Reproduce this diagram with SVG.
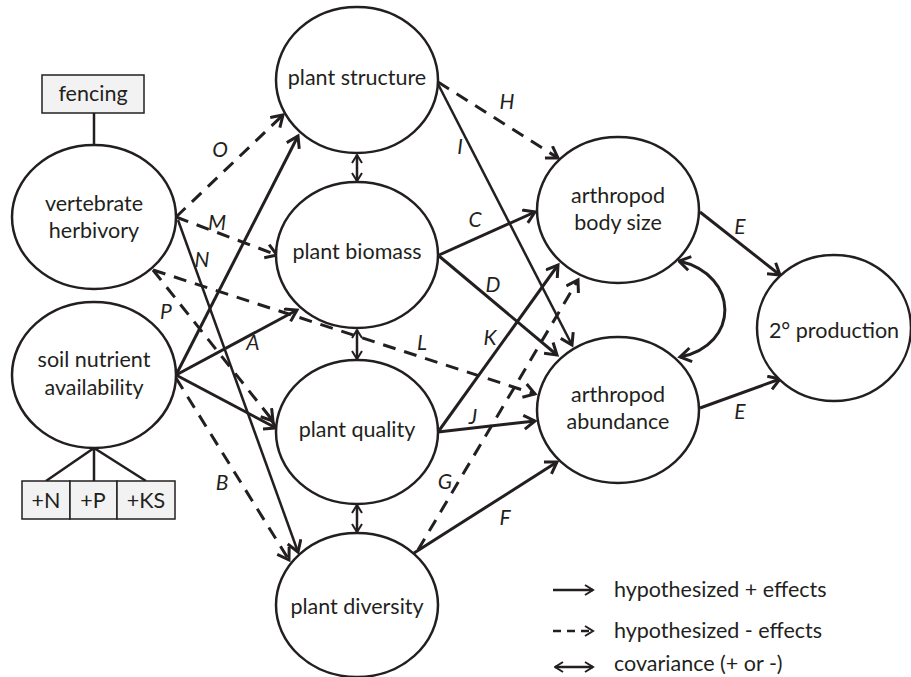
<svg xmlns="http://www.w3.org/2000/svg" width="911" height="677" viewBox="0 0 911 677">
<defs>
<marker id="ah" markerUnits="userSpaceOnUse" markerWidth="20" markerHeight="20" refX="13" refY="8" orient="auto">
<path d="M2,1 L13,8 L2,15" fill="none" stroke="#231f20" stroke-width="3" stroke-dasharray="none"/>
</marker>
<marker id="ahs" markerUnits="userSpaceOnUse" markerWidth="16" markerHeight="16" refX="9" refY="6" orient="auto">
<path d="M1,1 L9,6 L1,11" fill="none" stroke="#231f20" stroke-width="2" stroke-dasharray="none"/>
</marker>
<marker id="ahsr" markerUnits="userSpaceOnUse" markerWidth="16" markerHeight="16" refX="1" refY="6" orient="auto">
<path d="M9,1 L1,6 L9,11" fill="none" stroke="#231f20" stroke-width="2" stroke-dasharray="none"/>
</marker>
<marker id="ahr" markerUnits="userSpaceOnUse" markerWidth="20" markerHeight="20" refX="1" refY="8" orient="auto">
<path d="M12,1 L1,8 L12,15" fill="none" stroke="#231f20" stroke-width="3" stroke-dasharray="none"/>
</marker>
</defs>
<style>
.n ellipse{fill:#fff;stroke:#231f20;stroke-width:2.5}
.n rect{fill:#f2f2f2;stroke:#231f20;stroke-width:1.5}
text{font-family:Lato,"Open Sans","Liberation Sans",sans-serif;font-size:21.5px;fill:#231f20}
.t{text-anchor:middle}
.lb{font-style:italic;text-anchor:middle;font-size:21px}
.e{fill:none;stroke:#231f20;stroke-width:3}
.thin{stroke-width:2.5}
.d{stroke-dasharray:13 9}
.tie{stroke:#231f20;stroke-width:2.5;fill:none}
</style>
<rect width="911" height="677" fill="#fff"/>
<g id="connectors">
<line class="tie" x1="94" y1="113" x2="94" y2="145"/>
<path class="tie" d="M46,481 L94,448 L146,481 M94,448 L94,481"/>
<line class="e d" x1="176" y1="217" x2="283" y2="115" marker-end="url(#ah)"/>
<line class="e d" x1="176" y1="217" x2="277" y2="255" marker-end="url(#ah)"/>
<line class="e thin" x1="178" y1="220" x2="298" y2="552" marker-end="url(#ah)"/>
<line class="e d" x1="153" y1="270" x2="273" y2="421" marker-end="url(#ah)"/>
<line class="e d" x1="153" y1="270" x2="535" y2="394" marker-end="url(#ah)"/>
<line class="e" x1="176" y1="375" x2="298" y2="136" marker-end="url(#ah)"/>
<line class="e" x1="176" y1="375" x2="297" y2="310" marker-end="url(#ah)"/>
<line class="e" x1="176" y1="375" x2="276" y2="428" marker-end="url(#ah)"/>
<line class="e d" x1="176" y1="378" x2="289" y2="560" marker-end="url(#ah)"/>
<line class="e d" x1="438" y1="82" x2="558" y2="158" marker-end="url(#ah)"/>
<line class="e thin" x1="438" y1="84" x2="572" y2="345" marker-end="url(#ah)"/>
<line class="e" x1="439" y1="255" x2="535" y2="212" marker-end="url(#ah)"/>
<line class="e" x1="439" y1="256" x2="557" y2="355" marker-end="url(#ah)"/>
<line class="e" x1="438" y1="432" x2="558" y2="265" marker-end="url(#ah)"/>
<line class="e" x1="438" y1="432" x2="535" y2="421" marker-end="url(#ah)"/>
<line class="e d" x1="418" y1="550" x2="578" y2="280" marker-end="url(#ah)"/>
<line class="e" x1="414" y1="553" x2="557" y2="462" marker-end="url(#ah)"/>
<line class="e" x1="700" y1="212" x2="780" y2="275" marker-end="url(#ah)"/>
<line class="e" x1="700" y1="408" x2="780" y2="379" marker-end="url(#ah)"/>
<path class="e" d="M679,261 C740,275 740,345 680,357" marker-start="url(#ahr)" marker-end="url(#ah)"/>
<line class="e thin" x1="357" y1="155" x2="357" y2="181" marker-start="url(#ahsr)" marker-end="url(#ahs)"/>
<line class="e thin" x1="357" y1="330" x2="357" y2="359" marker-start="url(#ahsr)" marker-end="url(#ahs)"/>
<line class="e thin" x1="357" y1="505" x2="357" y2="532" marker-start="url(#ahsr)" marker-end="url(#ahs)"/>
</g>
<g id="edge-labels">
<text class="lb" x="220" y="157">O</text>
<text class="lb" x="217" y="230">M</text>
<text class="lb" x="202" y="267">N</text>
<text class="lb" x="166" y="319">P</text>
<text class="lb" x="253" y="350">A</text>
<text class="lb" x="222" y="490">B</text>
<text class="lb" x="507" y="109">H</text>
<text class="lb" x="460" y="154">I</text>
<text class="lb" x="475" y="227">C</text>
<text class="lb" x="493" y="292">D</text>
<text class="lb" x="490" y="345">K</text>
<text class="lb" x="422" y="350">L</text>
<text class="lb" x="473" y="424">J</text>
<text class="lb" x="445" y="489">G</text>
<text class="lb" x="505" y="525">F</text>
<text class="lb" x="740" y="234">E</text>
<text class="lb" x="740" y="419">E</text>
</g>
<g id="fencing" class="n"><rect x="42" y="75" width="102" height="38"/><text class="t" x="93" y="101">fencing</text></g>
<g id="vertebrate-herbivory" class="n"><ellipse cx="94" cy="217" rx="82" ry="72"/><text class="t" x="94" y="211">vertebrate</text><text class="t" x="94" y="238">herbivory</text></g>
<g id="soil-nutrient-availability" class="n"><ellipse cx="94" cy="375" rx="82" ry="73"/><text class="t" x="94" y="367">soil nutrient</text><text class="t" x="94" y="395">availability</text></g>
<g id="n-box" class="n"><rect x="22" y="481" width="48" height="38"/><text class="t" x="46" y="508">+N</text></g>
<g id="p-box" class="n"><rect x="70" y="481" width="47" height="38"/><text class="t" x="93" y="508">+P</text></g>
<g id="ks-box" class="n"><rect x="117" y="481" width="58" height="38"/><text class="t" x="146" y="508">+KS</text></g>
<g id="plant-structure" class="n"><ellipse cx="357" cy="80" rx="81" ry="73"/><text class="t" x="357" y="85">plant structure</text></g>
<g id="plant-biomass" class="n"><ellipse cx="357" cy="255" rx="81" ry="73"/><text class="t" x="357" y="259">plant biomass</text></g>
<g id="plant-quality" class="n"><ellipse cx="357" cy="432" rx="81" ry="72"/><text class="t" x="357" y="437">plant quality</text></g>
<g id="plant-diversity" class="n"><ellipse cx="357" cy="605" rx="81" ry="72"/><text class="t" x="357" y="614">plant diversity</text></g>
<g id="arthropod-body-size" class="n"><ellipse cx="618" cy="210" rx="81" ry="73"/><text class="t" x="618" y="203">arthropod</text><text class="t" x="618" y="230">body size</text></g>
<g id="arthropod-abundance" class="n"><ellipse cx="618" cy="410" rx="81" ry="73"/><text class="t" x="618" y="402">arthropod</text><text class="t" x="618" y="429">abundance</text></g>
<g id="secondary-production" class="n"><ellipse cx="834" cy="328" rx="77" ry="73"/><text class="t" x="834" y="338">2° production</text></g>
<g id="legend">
<line class="e thin" x1="553" y1="590" x2="593" y2="590" marker-end="url(#ahs)"/>
<text x="614" y="597">hypothesized + effects</text>
<line class="e thin" x1="553" y1="631" x2="593" y2="631" style="stroke-dasharray:8 6" marker-end="url(#ahs)"/>
<text x="614" y="638">hypothesized - effects</text>
<line class="e thin" x1="555" y1="667" x2="593" y2="667" marker-start="url(#ahsr)" marker-end="url(#ahs)"/>
<text x="614" y="671">covariance (+ or -)</text>
</g>
</svg>
